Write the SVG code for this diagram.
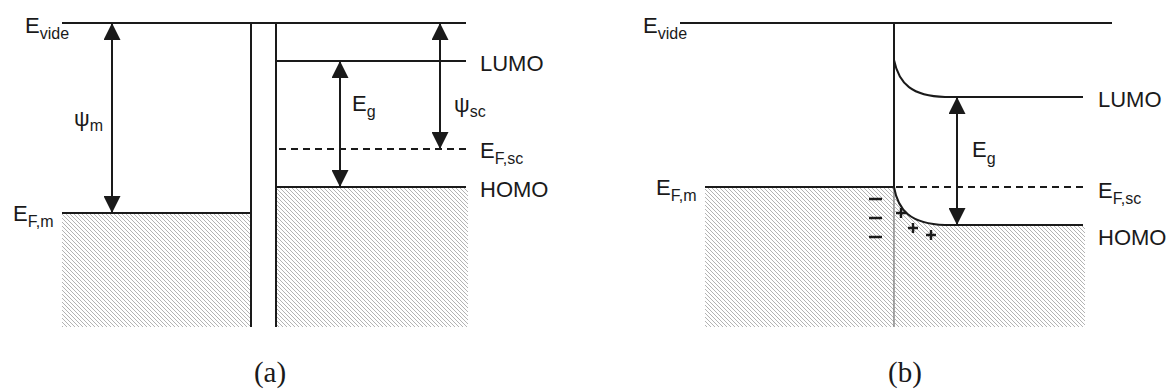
<svg xmlns="http://www.w3.org/2000/svg" width="1166" height="390" viewBox="0 0 1166 390">
<style>
.lvl{stroke:#1a1a1a;stroke-width:2;fill:none}
.dash{stroke:#1a1a1a;stroke-width:2;fill:none;stroke-dasharray:7 5}
.thin{stroke:#777;stroke-width:1.3;fill:none}
.arr{stroke:#1a1a1a;stroke-width:2;fill:none;marker-start:url(#ah);marker-end:url(#ah)}
.t{font-family:"Liberation Sans",Arial,sans-serif;font-size:22px;fill:#1a1a1a}
.s{font-size:16px}
.cap{font-family:"Liberation Serif","Times New Roman",serif;font-size:29px;fill:#1a1a1a;text-anchor:middle}
.hatch{fill:url(#hp);stroke:none}
.pm{stroke:#1a1a1a;stroke-width:2.4;fill:none}
</style>
<defs>
<pattern id="hp" patternUnits="userSpaceOnUse" width="4" height="4">
<path d="M-1,-1 L5,5 M-1,3 L1,5 M3,-1 L5,1" stroke="#aaa" stroke-width="0.9"/>
</pattern>
<marker id="ah" viewBox="0 0 17 17" refX="16" refY="8.5" markerWidth="17" markerHeight="17" markerUnits="userSpaceOnUse" orient="auto-start-reverse">
<path d="M0,0 L17,8.5 L0,17 Z" fill="#1a1a1a"/>
</marker>
</defs>
<g id="panel-a">
<g id="a-metal">
<rect class="hatch" x="62" y="213" width="189" height="114"/>
<path class="lvl" d="M62,213 L251,213"/>
<path class="lvl" d="M251,23 L251,327"/>
<text class="t" x="13" y="221">E<tspan class="s" dy="6">F,m</tspan></text>
</g>
<g id="a-vacuum">
<path class="lvl" d="M62,23 L466,23"/>
<text class="t" x="25" y="33">E<tspan class="s" dy="6">vide</tspan></text>
</g>
<g id="a-sc">
<rect class="hatch" x="276" y="188" width="192" height="139"/>
<path class="lvl" d="M276,23 L276,327"/>
<path class="lvl" d="M276,61 L466,61"/>
<path class="lvl" d="M276,187 L466,187"/>
<path class="dash" d="M279,149 L466,149"/>
<text class="t" x="480" y="71">LUMO</text>
<text class="t" x="480" y="158">E<tspan class="s" dy="6">F,sc</tspan></text>
<text class="t" x="480" y="197">HOMO</text>
</g>
<g id="a-connectors">
<path class="arr" d="M112,24 L112,212"/>
<path class="arr" d="M340,62 L340,186"/>
<path class="arr" d="M440,24 L440,148"/>
</g>
<g id="a-labels">
<text class="t" x="74" y="126">ψ<tspan class="s" dy="5">m</tspan></text>
<text class="t" x="352" y="111">E<tspan class="s" dy="6">g</tspan></text>
<text class="t" x="454" y="112">ψ<tspan class="s" dy="5">sc</tspan></text>
</g>
<text class="cap" x="270" y="382">(a)</text>
</g>
<g id="panel-b">
<g id="b-metal">
<rect class="hatch" x="705" y="188" width="189" height="139"/>
<path class="lvl" d="M705,187 L894,187"/>
<text class="t" x="656" y="195">E<tspan class="s" dy="6">F,m</tspan></text>
<path class="pm" d="M869,199 L882,199 M869,218 L882,218 M869,237 L882,237"/>
</g>
<g id="b-vacuum">
<path class="lvl" d="M680,23 L1112,23"/>
<path class="lvl" d="M894,23 L894,187"/>
<path class="thin" d="M894,187 L894,327"/>
<text class="t" x="643" y="33">E<tspan class="s" dy="6">vide</tspan></text>
</g>
<g id="b-sc">
<path class="hatch" d="M895,188 C899,210 911,224 945,225.5 L1085,225.5 L1085,327 L895,327 Z"/>
<path class="lvl" d="M894,60 C899,84 912,96 945,97 L1083,97"/>
<path class="lvl" d="M894,187 C898,210 910,224 945,225 L1083,225"/>
<path class="dash" d="M896,187 L1083,187"/>
<path class="pm" d="M896,213 L906,213 M901,208 L901,218 M908,228 L918,228 M913,223 L913,233 M926,235 L936,235 M931,230 L931,240"/>
<text class="t" x="1098" y="107">LUMO</text>
<text class="t" x="1098" y="198">E<tspan class="s" dy="6">F,sc</tspan></text>
<text class="t" x="1098" y="245">HOMO</text>
</g>
<g id="b-connectors">
<path class="arr" d="M957,98 L957,224"/>
</g>
<text class="t" x="972" y="157">E<tspan class="s" dy="7">g</tspan></text>
<text class="cap" x="905" y="382">(b)</text>
</g>
</svg>
